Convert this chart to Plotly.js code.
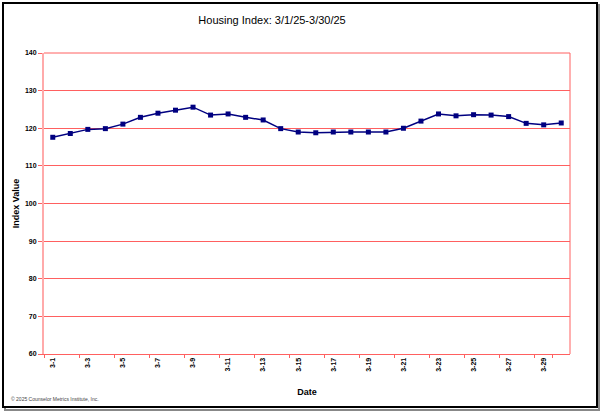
<!DOCTYPE html>
<html>
<head>
<meta charset="utf-8">
<script src="https://cdn.plot.ly/plotly-3.0.1.min.js"></script>
<style>
html,body{margin:0;padding:0;background:#fff;}
#chart{width:602px;height:411px;}
</style>
</head>
<body>
<div id="chart"></div>
<script>
const dates = ["3-1","3-2","3-3","3-4","3-5","3-6","3-7","3-8","3-9","3-10",
               "3-11","3-12","3-13","3-14","3-15","3-16","3-17","3-18","3-19","3-20",
               "3-21","3-22","3-23","3-24","3-25","3-26","3-27","3-28","3-29","3-30"];
const indexValues = [117.6,118.6,119.7,119.9,121.1,122.9,124.0,124.8,125.6,123.5,
                     123.8,122.9,122.2,119.9,119.0,118.8,119.0,119.0,119.0,119.0,
                     120.0,121.9,123.8,123.3,123.6,123.5,123.1,121.3,120.9,121.4];
const yTicks = [60,70,80,90,100,110,120,130,140];
const tickDates = dates.filter((d,i)=>i%2===0);

const trace = {
  type:'scatter', mode:'lines+markers',
  x: dates, y: indexValues,
  line:{color:'#000080', width:1.5},
  marker:{symbol:'square', size:5, color:'#000080'},
  hoverinfo:'x+y'
};

const layout = {
  width:602, height:411,
  paper_bgcolor:'#ffffff', plot_bgcolor:'#ffffff',
  margin:{l:44, r:32, t:53, b:57},
  showlegend:false,
  font:{family:'Arial, Liberation Sans, sans-serif', color:'#000'},
  title:{text:'Housing Index: 3/1/25-3/30/25', font:{size:11, color:'#000'},
         x:261/602, xref:'paper', xanchor:'center', y:1-20/411, yanchor:'middle'},
  xaxis:{
    type:'category', categoryorder:'array', categoryarray:dates,
    range:[-0.5, dates.length-0.5],
    tickmode:'array', tickvals:tickDates, ticktext:tickDates,
    tickson:'boundaries',
    tickangle:-90, tickfont:{size:7, weight:'bold', color:'#000'},
    ticks:'outside', ticklen:3, tickcolor:'#ff6060', tickwidth:1,
    showgrid:false, zeroline:false,
    showline:true, linecolor:'#ff6060', linewidth:1, mirror:false,
    title:{text:'<b>Date</b>', font:{size:9, color:'#000'}, standoff:17}
  },
  yaxis:{
    range:[60,140], tickmode:'array', tickvals:yTicks,
    tickfont:{size:7, weight:'bold', color:'#000'},
    ticks:'outside', ticklen:4, tickcolor:'#ff6060',
    showgrid:true, gridcolor:'#ff6060', gridwidth:1,
    zeroline:false,
    showline:true, linecolor:'#ffaaaa', linewidth:2,
    title:{text:'<b>Index Value</b>', font:{size:9, color:'#000'}, standoff:4}
  },
  shapes:[
    {type:'line', xref:'paper', yref:'paper', x0:1, x1:1, y0:0, y1:1, line:{color:'#ff6060', width:1}},
    {type:'line', xref:'paper', yref:'paper', x0:0, x1:1, y0:1, y1:1, line:{color:'#ff6060', width:1}},
    {type:'rect', xref:'paper', yref:'paper',
     x0:(5-44)/526, x1:(599-44)/526, y0:(354-410)/301, y1:(354-5)/301,
     line:{color:'#888', width:2}, layer:'below'},
    {type:'rect', xref:'paper', yref:'paper',
     x0:(3-44)/526, x1:(597-44)/526, y0:(354-407)/301, y1:(354-3)/301,
     line:{color:'#000', width:2}, fillcolor:'#ffffff', layer:'below'}
  ],
  annotations:[
    {text:'© 2025 Counselor Metrics Institute, Inc.', xref:'paper', yref:'paper',
     x:(9-44)/526, y:(354-399)/301, xanchor:'left', yanchor:'middle', showarrow:false,
     font:{size:5, color:'#444'}}
  ]
};

Plotly.newPlot('chart', [trace], layout, {displayModeBar:false, staticPlot:true});
</script>
</body>
</html>
